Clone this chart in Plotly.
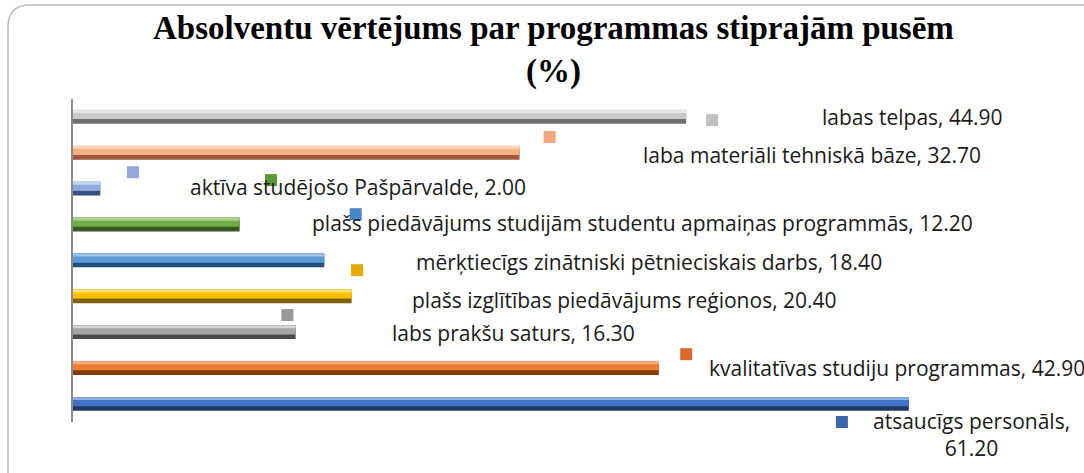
import plotly.graph_objects as go

# ---- data (bottom to top) ----
categories = [
    "atsaucīgs personāls",
    "kvalitatīvas studiju programmas",
    "labs prakšu saturs",
    "plašs izglītības piedāvājums reģionos",
    "mērķtiecīgs zinātniski pētnieciskais darbs",
    "plašs piedāvājums studijām studentu apmaiņas programmās",
    "aktīva studējošo Pašpārvalde",
    "laba materiāli tehniskā bāze",
    "labas telpas",
]
values = [61.20, 42.90, 16.30, 20.40, 18.40, 12.20, 2.00, 32.70, 44.90]
title_text = "Absolventu vērtējums par programmas stiprajām pusēm<br>(%)"

# ---- styles ----
main_colors = ["#4472C4", "#ED7D31", "#A5A5A5", "#FFC000", "#5B9BD5",
               "#70AD47", "#8FAADC", "#F4B183", "#C9C9C9"]
dark_colors = ["#1F3864", "#843C0C", "#4A4A4A", "#7F6000", "#1F4E79",
               "#385723", "#3A4E80", "#A0583A", "#6E6E6E"]
light_colors = ["#8FAEE6", "#F8B07E", "#D6D6D6", "#FFE07A", "#9DC3E6",
                "#A9D18E", "#C5D3F0", "#FAD3B8", "#E8E8E8"]
key_colors = ["#3E64AE", "#D9692A", "#999999", "#E6A800", "#4A86C0",
              "#5B9A37", "#95A8DA", "#F4A582", "#C0C0C0"]

# label layout: (text left x, text y, marker x, marker y) in data units
label_pos = [
    (65.8, -0.86, 56.3, -0.5),
    (46.4, 1.0, 44.9, 1.39),
    (23.2, 1.98, 15.7, 2.48),
    (24.7, 2.9, 20.8, 3.73),
    (25.0, 3.96, 20.7, 5.29),
    (17.35, 5.04, 14.5, 6.24),
    (8.4, 6.05, 4.39, 6.46),
    (41.6, 6.94, 34.9, 7.44),
    (54.7, 8.0, 46.8, 7.91),
]
label_font = dict(family="Open Sans", size=21, color="#1a1a1a")

W, H = 1084, 473
ml, mr, mt, mb = 73, 55, 99, 51
xmax = 70
ymin, ymax = -0.5, 8.5
ypos = list(range(len(categories)))

fig = go.Figure()
# 3-layer bars to imitate gradient
fig.add_trace(go.Bar(x=values, y=ypos, orientation="h", base=0,
                     width=0.38, offset=-0.19,
                     marker=dict(color=dark_colors, line=dict(width=0)),
                     hoverinfo="skip", showlegend=False))
fig.add_trace(go.Bar(x=values, y=ypos, orientation="h", base=0,
                     width=0.26, offset=-0.06,
                     marker=dict(color=main_colors, line=dict(width=0)),
                     hoverinfo="skip", showlegend=False))
fig.add_trace(go.Bar(x=values, y=ypos, orientation="h", base=0,
                     width=0.08, offset=0.11,
                     marker=dict(color=light_colors, line=dict(width=0)),
                     hoverinfo="skip", showlegend=False))

# label key squares
fig.add_trace(go.Scatter(x=[p[2] for p in label_pos], y=[p[3] for p in label_pos],
                         mode="markers", cliponaxis=False,
                         marker=dict(symbol="square", size=12, color=key_colors,
                                     line=dict(width=0)),
                         hoverinfo="skip", showlegend=False))

def ydata_to_paper(v):
    return (v - ymin) / (ymax - ymin)
def xdata_to_paper(v):
    return v / xmax

for i, (cat, val) in enumerate(zip(categories, values)):
    tx, ty, _, _ = label_pos[i]
    if i == 0:
        fig.add_annotation(x=xdata_to_paper(tx), y=ydata_to_paper(ty),
                           xref="paper", yref="paper",
                           text=f"{cat},<br>{val:.2f}", showarrow=False,
                           xanchor="center", yanchor="middle", align="center",
                           font=label_font)
    else:
        fig.add_annotation(x=tx, y=ty, text=f"{cat}, {val:.2f}", showarrow=False,
                           xanchor="left", yanchor="middle", font=label_font)

# pixel -> paper helpers
pw = W - ml - mr
ph = H - mt - mb
def px(x):
    return (x - ml) / pw
def py(y):
    return 1 - (y - mt) / ph

# title as annotation
fig.add_annotation(x=px(553), y=py(8), xref="paper", yref="paper",
                   text=title_text, showarrow=False, xanchor="center",
                   yanchor="top", align="center",
                   font=dict(family="Liberation Serif", size=33, color="black",
                             weight="bold"))

# rounded border
x0, y0, x1, y1, r = 8, 5, 1095, 485, 22
path = (f"M {px(x0)},{py(y0 + r)} Q {px(x0)},{py(y0)} {px(x0 + r)},{py(y0)} "
        f"L {px(x1)},{py(y0)} L {px(x1)},{py(y1)} L {px(x0)},{py(y1)} Z")
fig.add_shape(type="path", path=path, xref="paper", yref="paper",
              line=dict(color="#BDBDBD", width=1.5), layer="below")

fig.update_layout(
    width=W, height=H,
    margin=dict(l=ml, r=mr, t=mt, b=mb),
    paper_bgcolor="white", plot_bgcolor="white",
    barmode="overlay",
    xaxis=dict(range=[0, xmax], showgrid=False, zeroline=False, showline=False,
               showticklabels=False, ticks=""),
    yaxis=dict(range=[ymin, ymax], showgrid=False, zeroline=False,
               showline=True, linecolor="#8C8C8C", linewidth=2,
               showticklabels=False, ticks=""),
)

fig.write_html("out.html", config={"displayModeBar": False},
               post_script="document.body.style.margin='0';document.body.style.overflow='hidden';")
